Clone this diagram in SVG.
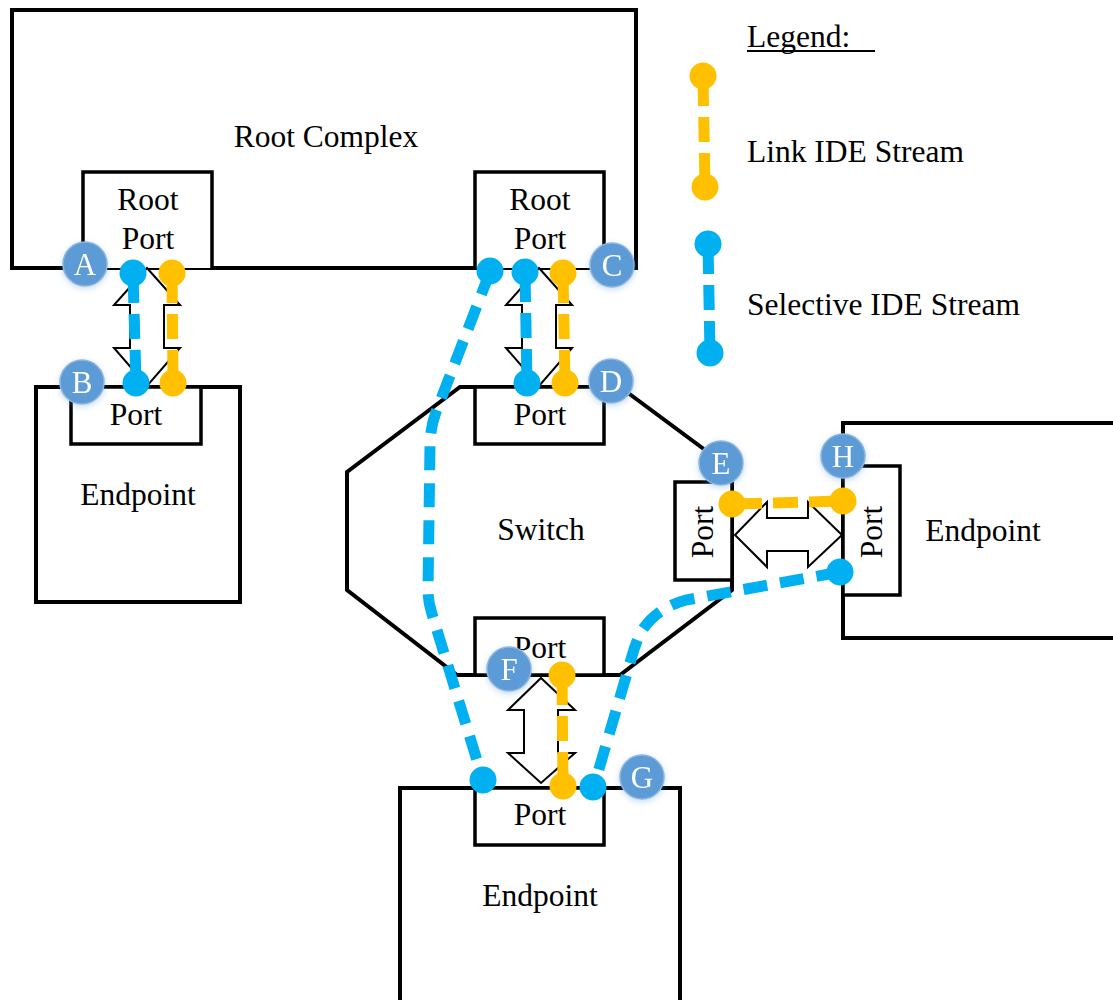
<svg xmlns="http://www.w3.org/2000/svg" width="1113" height="1000" viewBox="0 0 1113 1000">
<defs>
<style>
.box{fill:#fff;stroke:#000;stroke-width:4;stroke-linejoin:miter}
.pbox{fill:#fff;stroke:#000;stroke-width:3.5}
.t{font-family:"Liberation Serif","Times New Roman",serif;font-size:31.5px;fill:#000}
.c{text-anchor:middle}
.arrow{fill:#fff;stroke:#000;stroke-width:2;stroke-linejoin:miter}
.ys{fill:none;stroke:#FFC000;stroke-width:11;stroke-dasharray:30 11 25 11}
.bs{fill:none;stroke:#00B0F0;stroke-width:11;stroke-dasharray:30 11 25 11}
.bl{fill:none;stroke:#00B0F0;stroke-width:11;stroke-dasharray:24 13}
.yd{fill:#FFC000}
.bd{fill:#00B0F0}
.lab{fill:#5B9BD5;stroke:#8FB4DE;stroke-width:1.5}
.lt{font-family:"Liberation Serif","Times New Roman",serif;font-size:31px;fill:#fff;text-anchor:middle}
</style>
<filter id="glow" x="-50%" y="-50%" width="200%" height="200%">
<feDropShadow dx="0" dy="2" stdDeviation="3" flood-color="#5B9BD5" flood-opacity="0.35"/>
</filter>
</defs>

<g id="root-complex">
<rect class="box" x="12" y="10" width="624" height="258"/>
<text class="t c" x="326" y="147">Root Complex</text>
</g>
<g id="root-port-left">
<path class="pbox" d="M83,268 V172 H212 V268"/>
<text class="t c" x="148" y="210">Root</text>
<text class="t c" x="148" y="249">Port</text>
</g>
<g id="root-port-right">
<path class="pbox" d="M475,268 V172 H604 V268"/>
<text class="t c" x="540" y="210">Root</text>
<text class="t c" x="540" y="249">Port</text>
</g>

<g id="endpoint-left">
<rect class="box" x="36" y="387" width="204" height="215"/>
<rect class="pbox" x="71" y="387" width="130" height="57"/>
<text class="t c" x="136" y="425">Port</text>
<text class="t c" x="138" y="505">Endpoint</text>
</g>

<g id="switch">
<polygon class="box" points="460,387 620,387 732,470 732,590 620,675 457,675 347,590 347,472"/>
<rect class="pbox" x="475" y="387" width="129" height="57"/>
<text class="t c" x="540" y="425">Port</text>
<rect class="pbox" x="475" y="618" width="129" height="57"/>
<text class="t c" x="540" y="658">Port</text>
<rect class="pbox" x="675" y="482" width="57" height="98"/>
<text class="t c" transform="translate(713,532) rotate(-90)">Port</text>
<text class="t c" x="541" y="540">Switch</text>
</g>

<g id="endpoint-right">
<path class="box" d="M1116,423 H843 V638 H1116"/>
<rect class="pbox" x="843" y="466" width="57" height="129"/>
<text class="t c" transform="translate(882,532) rotate(-90)">Port</text>
<text class="t c" x="983" y="541">Endpoint</text>
</g>

<g id="endpoint-bottom">
<path class="box" d="M400,1003 V788 H680 V1003"/>
<rect class="pbox" x="475" y="788" width="129" height="57"/>
<text class="t c" x="540" y="825">Port</text>
<text class="t c" x="540" y="906">Endpoint</text>
</g>

<g id="legend">
<text class="t" x="747" y="47">Legend:</text>
<line x1="747" y1="51" x2="875" y2="51" stroke="#000" stroke-width="2"/>
<path class="ys" d="M703,76 L705,187"/>
<circle class="yd" cx="703" cy="76" r="13.5"/>
<circle class="yd" cx="705" cy="187" r="13.5"/>
<text class="t" x="747" y="162">Link IDE Stream</text>
<path class="bs" d="M708,244 L710,353"/>
<circle class="bd" cx="708" cy="244" r="13.5"/>
<circle class="bd" cx="710" cy="353" r="13.5"/>
<text class="t" x="747" y="315">Selective IDE Stream</text>
</g>

<g id="connectors">
<polygon class="arrow" points="147,268 180,305 164,305 164,348 180,348 147,386 114,348 130,348 130,305 114,305"/>
<polygon class="arrow" points="539,268 572,305 556,305 556,348 572,348 539,386 506,348 522,348 522,305 506,305"/>
<polygon class="arrow" points="735,535 767,502 767,518 808,518 808,502 842,535 808,567 808,551 767,551 767,567"/>
<polygon class="arrow" points="541,678 575,710 558,710 558,753 575,753 541,783 508,753 524,753 524,710 508,710"/>

<path class="ys" d="M172,273 L173,383"/>
<path class="ys" d="M563,273 L565,383"/>
<path class="ys" d="M732,504 L843,501"/>
<path class="ys" d="M562,675 L563,786"/>

<path class="bs" d="M133,273 L136,383"/>
<path class="bs" d="M525,272 L527,383"/>
<path class="bl" d="M490,272 L436,412 Q430,428 430,446 L428,590 Q428,602 432,614 L483,780"/>
<path class="bl" d="M840,572 L686,600 Q656,608 641,632 Q636,642 632,656 L594,786"/>

<circle class="bd" cx="133" cy="273" r="13.5"/>
<circle class="bd" cx="136" cy="383" r="13.5"/>
<circle class="yd" cx="172" cy="273" r="13.5"/>
<circle class="yd" cx="173" cy="383" r="13.5"/>
<circle class="bd" cx="490" cy="271" r="13.5"/>
<circle class="bd" cx="525" cy="272" r="13.5"/>
<circle class="bd" cx="527" cy="383" r="13.5"/>
<circle class="yd" cx="563" cy="273" r="13.5"/>
<circle class="yd" cx="565" cy="383" r="13.5"/>
<circle class="yd" cx="732" cy="504" r="13.5"/>
<circle class="yd" cx="843" cy="501" r="13.5"/>
<circle class="bd" cx="840" cy="572" r="13.5"/>
<circle class="yd" cx="562" cy="675" r="13.5"/>
<circle class="yd" cx="563" cy="786" r="13.5"/>
<circle class="bd" cx="483" cy="780" r="13.5"/>
<circle class="bd" cx="593" cy="787" r="13.5"/>
</g>

<g id="label-A" filter="url(#glow)"><circle class="lab" cx="85" cy="264" r="22"/><text class="lt" x="85" y="275">A</text></g>
<g id="label-B" filter="url(#glow)"><circle class="lab" cx="82" cy="382" r="22"/><text class="lt" x="82" y="393">B</text></g>
<g id="label-C" filter="url(#glow)"><circle class="lab" cx="612" cy="265" r="22"/><text class="lt" x="612" y="276">C</text></g>
<g id="label-D" filter="url(#glow)"><circle class="lab" cx="611" cy="381" r="22"/><text class="lt" x="611" y="392">D</text></g>
<g id="label-E" filter="url(#glow)"><circle class="lab" cx="721" cy="463" r="22"/><text class="lt" x="721" y="474">E</text></g>
<g id="label-H" filter="url(#glow)"><circle class="lab" cx="843" cy="456" r="22"/><text class="lt" x="843" y="467">H</text></g>
<g id="label-F" filter="url(#glow)"><circle class="lab" cx="509" cy="669" r="22"/><text class="lt" x="509" y="680">F</text></g>
<g id="label-G" filter="url(#glow)"><circle class="lab" cx="642" cy="777" r="22"/><text class="lt" x="642" y="788">G</text></g>
</svg>
